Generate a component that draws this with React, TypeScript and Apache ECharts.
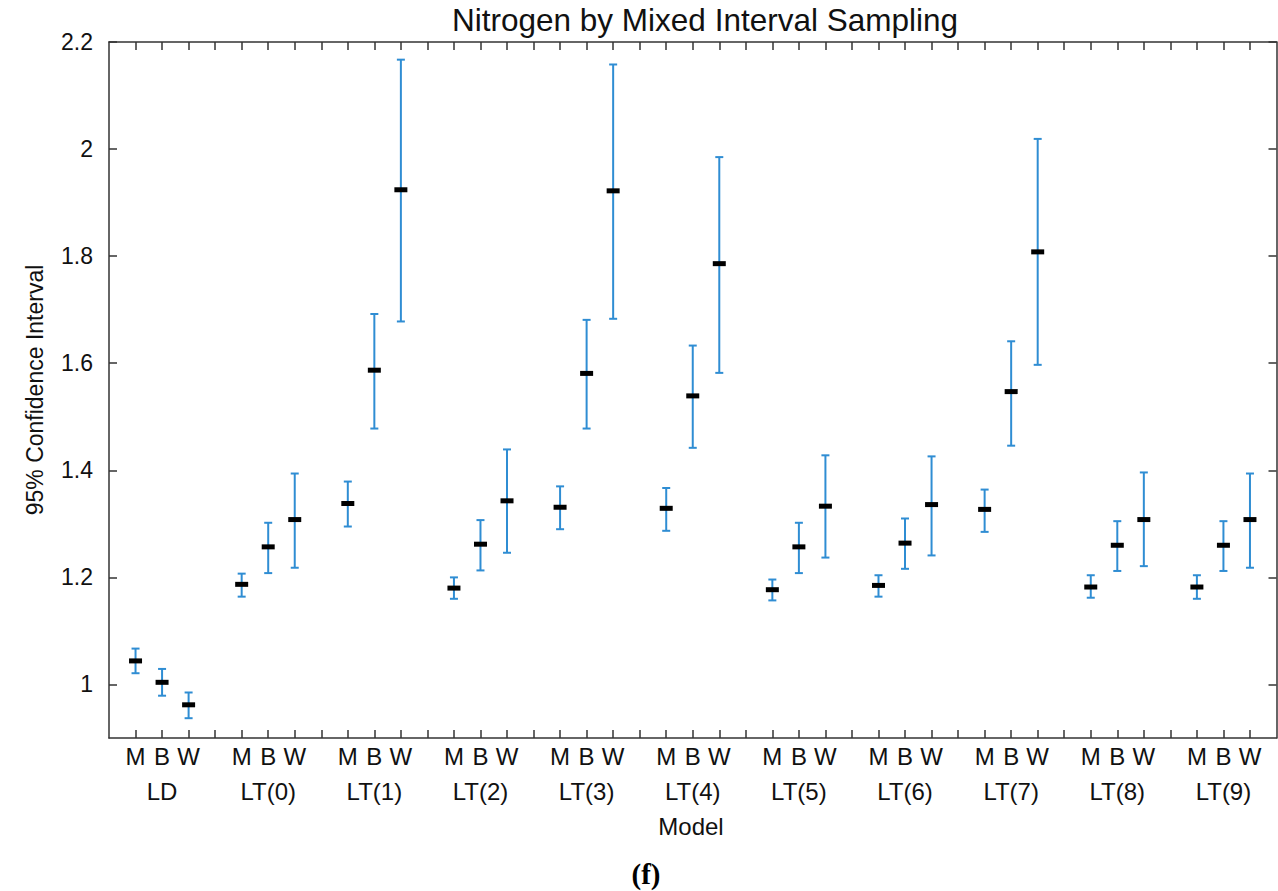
import React, { useEffect, useRef } from "react";
import * as echarts from "echarts";

const models = ["LD", "LT(0)", "LT(1)", "LT(2)", "LT(3)", "LT(4)", "LT(5)", "LT(6)", "LT(7)", "LT(8)", "LT(9)"];
const subLabels = ["M", "B", "W"];
const yTickLabels = [1, 1.2, 1.4, 1.6, 1.8, 2, 2.2];

// per model: [M, B, W]
const means = [
  [1.044, 1.004, 0.962],
  [1.187, 1.257, 1.308],
  [1.338, 1.587, 1.924],
  [1.18, 1.262, 1.343],
  [1.331, 1.581, 1.922],
  [1.329, 1.539, 1.786],
  [1.177, 1.257, 1.333],
  [1.185, 1.264, 1.336],
  [1.327, 1.547, 1.808],
  [1.182, 1.26, 1.308],
  [1.182, 1.26, 1.308],
];
const lows = [
  [1.021, 0.979, 0.937],
  [1.164, 1.208, 1.218],
  [1.295, 1.478, 1.678],
  [1.16, 1.213, 1.246],
  [1.29, 1.478, 1.683],
  [1.287, 1.442, 1.582],
  [1.157, 1.208, 1.237],
  [1.164, 1.216, 1.241],
  [1.285, 1.446, 1.597],
  [1.162, 1.212, 1.221],
  [1.16, 1.212, 1.218],
];
const highs = [
  [1.067, 1.029, 0.985],
  [1.207, 1.302, 1.394],
  [1.379, 1.692, 2.167],
  [1.2, 1.307, 1.439],
  [1.37, 1.681, 2.158],
  [1.367, 1.633, 1.985],
  [1.196, 1.302, 1.428],
  [1.204, 1.31, 1.426],
  [1.364, 1.641, 2.019],
  [1.204, 1.305, 1.396],
  [1.204, 1.305, 1.394],
];

const SLOT = 4; // three boxes + one gap per model

export default function App() {
  const ref = useRef<HTMLDivElement>(null);
  useEffect(() => {
    if (!ref.current) return;
    const chart = echarts.init(ref.current, null, { renderer: "svg" });
    const data: number[][] = [];
    const labelPos: number[] = [];
    const groupPos: number[] = [];
    models.forEach((m, g) => {
      subLabels.forEach((s, i) => {
        const x = g * SLOT + i;
        data.push([x, lows[g][i], highs[g][i], means[g][i]]);
        labelPos.push(x);
      });
      groupPos.push(g * SLOT + 1);
    });
    const tickPos: number[] = [];
    for (let i = 0; i <= (models.length - 1) * SLOT + 2; i++) tickPos.push(i);

    const font = "'Liberation Sans', Arial, Helvetica, sans-serif";
    const axisLine = { show: true, onZero: false, lineStyle: { color: "#333", width: 1.5 } };
    const tick = { show: true, inside: true, length: 8, lineStyle: { color: "#333", width: 1.5 } };
    const xMin = -1;
    const xMax = (models.length - 1) * SLOT + 3;

    chart.setOption({
      animation: false,
      backgroundColor: "#fff",
      grid: { left: 109, right: 1.5, top: 42, bottom: 153 },
      xAxis: [
        {
          type: "value",
          min: xMin,
          max: xMax,
          position: "bottom",
          axisLine,
          axisTick: { ...tick, customValues: tickPos },
          axisLabel: {
            customValues: labelPos,
            formatter: (v: number) => subLabels[Math.round(v) % SLOT] || "",
            margin: 6,
            fontSize: 24,
            color: "#111",
            fontFamily: font,
          },
          splitLine: { show: false },
        },
        {
          type: "value",
          min: xMin,
          max: xMax,
          position: "top",
          axisLine,
          axisTick: { ...tick, customValues: tickPos },
          axisLabel: { show: false },
          splitLine: { show: false },
        },
        {
          type: "value",
          min: xMin,
          max: xMax,
          position: "bottom",
          axisLine: { show: false },
          axisTick: { show: false },
          axisLabel: {
            customValues: groupPos,
            formatter: (v: number) => models[Math.round((v - 1) / SLOT)] || "",
            margin: 41,
            fontSize: 24,
            color: "#111",
            fontFamily: font,
          },
          splitLine: { show: false },
        },
      ],
      yAxis: [
        {
          type: "value",
          min: 0.9,
          max: 2.2,
          position: "left",
          axisLine,
          axisTick: { ...tick, customValues: yTickLabels },
          axisLabel: {
            customValues: yTickLabels,
            formatter: (v: number) => String(Math.round(v * 10) / 10),
            margin: 16,
            fontSize: 23,
            color: "#111",
            fontFamily: font,
          },
          splitLine: { show: false },
        },
        {
          type: "value",
          min: 0.9,
          max: 2.2,
          position: "right",
          axisLine,
          axisTick: { ...tick, customValues: yTickLabels },
          axisLabel: { show: false },
          splitLine: { show: false },
        },
      ],
      graphic: [
        {
          type: "text",
          x: 705,
          y: 20,
          style: {
            text: "Nitrogen by Mixed Interval Sampling",
            fontSize: 31.5,
            fontFamily: font,
            fill: "#111",
            align: "center",
            verticalAlign: "middle",
          },
        },
        {
          type: "text",
          x: 35,
          y: 390,
          rotation: Math.PI / 2,
          style: {
            text: "95% Confidence Interval",
            fontSize: 23,
            fontFamily: font,
            fill: "#111",
            align: "center",
            verticalAlign: "middle",
          },
        },
        {
          type: "text",
          x: 691,
          y: 826,
          style: {
            text: "Model",
            fontSize: 24,
            fontFamily: font,
            fill: "#111",
            align: "center",
            verticalAlign: "middle",
          },
        },
        {
          type: "text",
          x: 646,
          y: 874,
          style: {
            text: "(f)",
            fontSize: 29,
            fontWeight: "bold",
            fontFamily: "'Liberation Serif', 'Times New Roman', serif",
            fill: "#000",
            align: "center",
            verticalAlign: "middle",
          },
        },
      ],
      series: [
        {
          type: "custom",
          xAxisIndex: 0,
          yAxisIndex: 0,
          data,
          encode: { x: 0, y: [1, 2, 3] },
          renderItem: (params: any, api: any) => {
            const x = api.value(0);
            const pLo = api.coord([x, api.value(1)]);
            const pHi = api.coord([x, api.value(2)]);
            const pM = api.coord([x, api.value(3)]);
            const cap = 4;
            const blue = { stroke: "#2f8dd3", lineWidth: 2 };
            return {
              type: "group",
              children: [
                { type: "line", shape: { x1: pLo[0], y1: pLo[1], x2: pHi[0], y2: pHi[1] }, style: blue },
                { type: "line", shape: { x1: pLo[0] - cap, y1: pLo[1], x2: pLo[0] + cap, y2: pLo[1] }, style: blue },
                { type: "line", shape: { x1: pHi[0] - cap, y1: pHi[1], x2: pHi[0] + cap, y2: pHi[1] }, style: blue },
                { type: "rect", shape: { x: pM[0] - 6.5, y: pM[1] - 2.5, width: 13, height: 5 }, style: { fill: "#000" } },
              ],
            };
          },
        },
      ],
    });
    return () => chart.dispose();
  }, []);
  return (
    <div
      ref={ref}
      style={{ position: "fixed", left: 0, top: 0, width: 1278, height: 891, background: "#fff" }}
    />
  );
}
